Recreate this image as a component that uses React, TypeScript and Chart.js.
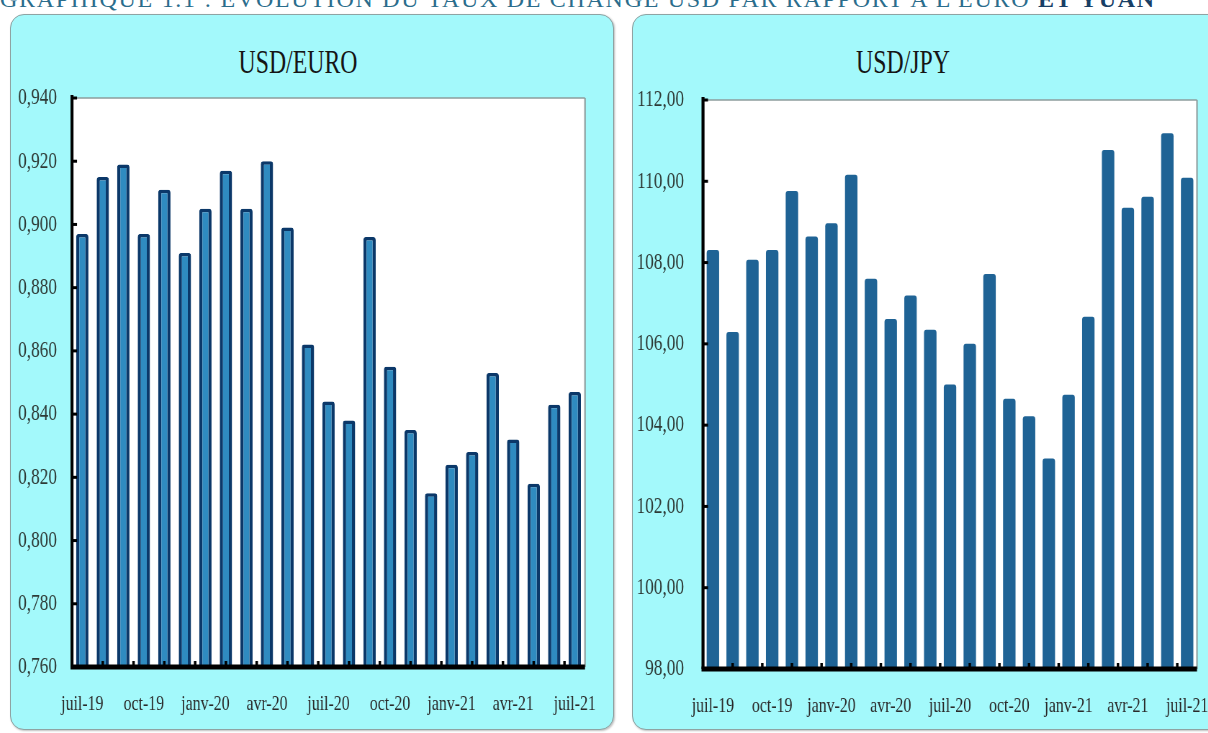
import React, { useEffect, useRef } from "react";
import { Chart, registerables } from "chart.js";
Chart.register(...registerables);

const months = ["juil-19","août-19","sept-19","oct-19","nov-19","déc-19","janv-20","févr-20","mars-20","avr-20","mai-20","juin-20","juil-20","août-20","sept-20","oct-20","nov-20","déc-20","janv-21","févr-21","mars-21","avr-21","mai-21","juin-21","juil-21"];
const usdEuro = [0.897,0.915,0.919,0.897,0.911,0.891,0.905,0.917,0.905,0.920,0.899,0.862,0.844,0.838,0.896,0.855,0.835,0.815,0.824,0.828,0.853,0.832,0.818,0.843,0.847];
const usdJpy = [108.31,106.29,108.07,108.31,109.76,108.64,108.97,110.16,107.6,106.61,107.19,106.35,105.0,106.0,107.72,104.65,104.22,103.18,104.75,106.67,110.77,109.35,109.62,111.18,110.09];
const euroTicks = [0.76, 0.78, 0.8, 0.82, 0.84, 0.86, 0.88, 0.9, 0.92, 0.94];
const jpyTicks = [98, 100, 102, 104, 106, 108, 110, 112];

const FONT = "'Liberation Serif', 'DejaVu Serif', serif";
// horizontal condensation of the whole drawing (the reference is horizontally squeezed)
const K = 0.72;

function makeFramePlugin(k: number) {
  return {
    id: "frame",
    beforeDraw(chart: any) {
      const { ctx, chartArea: a } = chart;
      ctx.save();
      ctx.fillStyle = "#ffffff";
      ctx.fillRect(a.left, a.top, a.right - a.left, a.bottom - a.top);
      ctx.strokeStyle = "#8d9c9c";
      ctx.lineWidth = 1.5;
      ctx.beginPath();
      ctx.moveTo(a.left, a.top);
      ctx.lineTo(a.right, a.top);
      ctx.stroke();
      ctx.lineWidth = 1.5 / k;
      ctx.beginPath();
      ctx.moveTo(a.right, a.top);
      ctx.lineTo(a.right, a.bottom);
      ctx.stroke();
      ctx.restore();
    },
    afterDatasetsDraw(chart: any) {
      const { ctx, chartArea: a, scales } = chart;
      const y = scales.y;
      const x = scales.x;
      ctx.save();
      ctx.strokeStyle = "#000";
      ctx.lineWidth = 3 / k;
      ctx.beginPath();
      ctx.moveTo(a.left, a.top - 3);
      ctx.lineTo(a.left, a.bottom);
      ctx.stroke();
      ctx.lineWidth = 5;
      ctx.beginPath();
      ctx.moveTo(a.left - 1.5 / k, a.bottom);
      ctx.lineTo(a.right, a.bottom);
      ctx.stroke();
      ctx.lineWidth = 3;
      y.ticks.forEach((t: any) => {
        const py = y.getPixelForValue(t.value);
        ctx.beginPath();
        ctx.moveTo(a.left, py);
        ctx.lineTo(a.left + 5 / k, py);
        ctx.stroke();
      });
      // small marks on the category axis, every month and a half
      const w = x.getPixelForValue(1) - x.getPixelForValue(0);
      const start = x.getPixelForValue(0) - w / 2;
      ctx.lineWidth = 2.5 / k;
      for (let n = 1; start + 1.5 * n * w < a.right - 2; n++) {
        const px = start + 1.5 * n * w;
        ctx.beginPath();
        ctx.moveTo(px, a.bottom);
        ctx.lineTo(px, a.bottom - 6);
        ctx.stroke();
      }
      ctx.restore();
    },
  };
}

type Spec = {
  values: number[];
  ticks: number[];
  decimals: number;
  min: number;
  max: number;
  width: number;
  height: number;
  area: { left: number; right: number; top: number; bottom: number };
  yPad: number;
  bar: any;
};

function BarPanel({ spec }: { spec: Spec }) {
  const ref = useRef<HTMLCanvasElement | null>(null);
  const iw = Math.round(spec.width / K);
  const k = spec.width / iw;
  useEffect(() => {
    if (!ref.current) return;
    const s = spec;
    const left = s.area.left / k;
    const right = s.area.right / k;
    const chart = new Chart(ref.current, {
      type: "bar",
      data: {
        labels: months,
        datasets: [{ data: s.values, ...s.bar(k) }],
      },
      options: {
        animation: false,
        responsive: false,
        devicePixelRatio: 1,
        layout: { padding: { left: 0, right: iw - right, top: s.area.top, bottom: 0 } },
        plugins: { legend: { display: false }, tooltip: { enabled: false }, title: { display: false } },
        scales: {
          x: {
            grid: { display: false, drawTicks: false },
            border: { display: false },
            afterFit: (sc: any) => { sc.height = s.height - s.area.bottom; },
            ticks: {
              autoSkip: false,
              maxRotation: 0,
              minRotation: 0,
              padding: 24,
              color: "#2a2a2a",
              font: { family: FONT, size: 22 },
              callback: (_v: any, i: number) => (i % 3 === 0 ? months[i] : ""),
            },
          },
          y: {
            min: s.min,
            max: s.max,
            grid: { display: false, drawTicks: false },
            border: { display: false },
            afterFit: (sc: any) => { sc.width = left; },
            afterBuildTicks: (sc: any) => { sc.ticks = s.ticks.map((v) => ({ value: v })); },
            ticks: {
              padding: s.yPad / k,
              color: "#2e3a36",
              font: { family: FONT, size: 24 },
              callback: (v: any) => Number(v).toFixed(s.decimals).replace(".", ","),
            },
          },
        },
      },
      plugins: [makeFramePlugin(k)],
    });
    return () => chart.destroy();
  }, [spec]);
  return (
    <canvas
      ref={ref}
      width={iw}
      height={spec.height}
      style={{ width: spec.width, height: spec.height, display: "block" }}
    />
  );
}

const euroSpec: Spec = {
  values: usdEuro,
  ticks: euroTicks,
  decimals: 3,
  min: 0.76,
  max: 0.94,
  width: 604,
  height: 716,
  area: { left: 62, right: 575, top: 84, bottom: 653 },
  yPad: 15,
  bar: (k: number) => ({
    backgroundColor: "#2f8bc0",
    borderColor: "#0b3869",
    borderWidth: { left: 3.2 / k, right: 3.2 / k, top: 3.5, bottom: 0 },
    borderSkipped: "bottom",
    borderRadius: { topLeft: 3, topRight: 3 },
    categoryPercentage: 1,
    barPercentage: 0.6,
  }),
};

const jpySpec: Spec = {
  values: usdJpy,
  ticks: jpyTicks,
  decimals: 2,
  min: 98,
  max: 112,
  width: 610,
  height: 716,
  area: { left: 71, right: 565, top: 86, bottom: 655 },
  yPad: 19,
  bar: (_k: number) => ({
    backgroundColor: "#1f6395",
    borderWidth: 0,
    borderRadius: { topLeft: 3, topRight: 3 },
    borderSkipped: "bottom",
    categoryPercentage: 1,
    barPercentage: 0.63,
  }),
};

const panelStyle: React.CSSProperties = {
  position: "absolute",
  top: 14,
  height: 716,
  background: "#a3f9fb",
  border: "1.5px solid #8fa3a3",
  borderRadius: 14,
  boxSizing: "border-box",
  boxShadow: "1px 1px 2px rgba(0,0,0,0.25)",
};

const titleStyle: React.CSSProperties = {
  position: "absolute",
  top: 42,
  width: 200,
  textAlign: "center",
  fontFamily: FONT,
  fontSize: 33,
  color: "#151515",
  lineHeight: "40px",
  transform: `scaleX(${K})`,
};

export default function App() {
  return (
    <div style={{ position: "fixed", left: 0, top: 0, width: 1208, height: 733, overflow: "hidden", background: "#fff" }}>
      <div
        style={{
          position: "absolute",
          left: 0,
          top: -14.5,
          whiteSpace: "nowrap",
          fontFamily: FONT,
          fontSize: 24,
          color: "#2b6d8c",
          letterSpacing: 1.7,
        }}
      >
        GRAPHIQUE 1.1 : EVOLUTION DU TAUX DE CHANGE USD PAR RAPPORT A L'EURO <b style={{ color: "#183f66" }}>ET YUAN</b>
      </div>
      <div style={{ ...panelStyle, left: 10, width: 604 }} />
      <div style={{ ...panelStyle, left: 632, width: 620 }} />
      <div style={{ ...titleStyle, left: 197.5 }}>USD/EURO</div>
      <div style={{ ...titleStyle, left: 803 }}>USD/JPY</div>
      <div style={{ position: "absolute", left: 10, top: 14 }}>
        <BarPanel spec={euroSpec} />
      </div>
      <div style={{ position: "absolute", left: 632, top: 14 }}>
        <BarPanel spec={jpySpec} />
      </div>
    </div>
  );
}
